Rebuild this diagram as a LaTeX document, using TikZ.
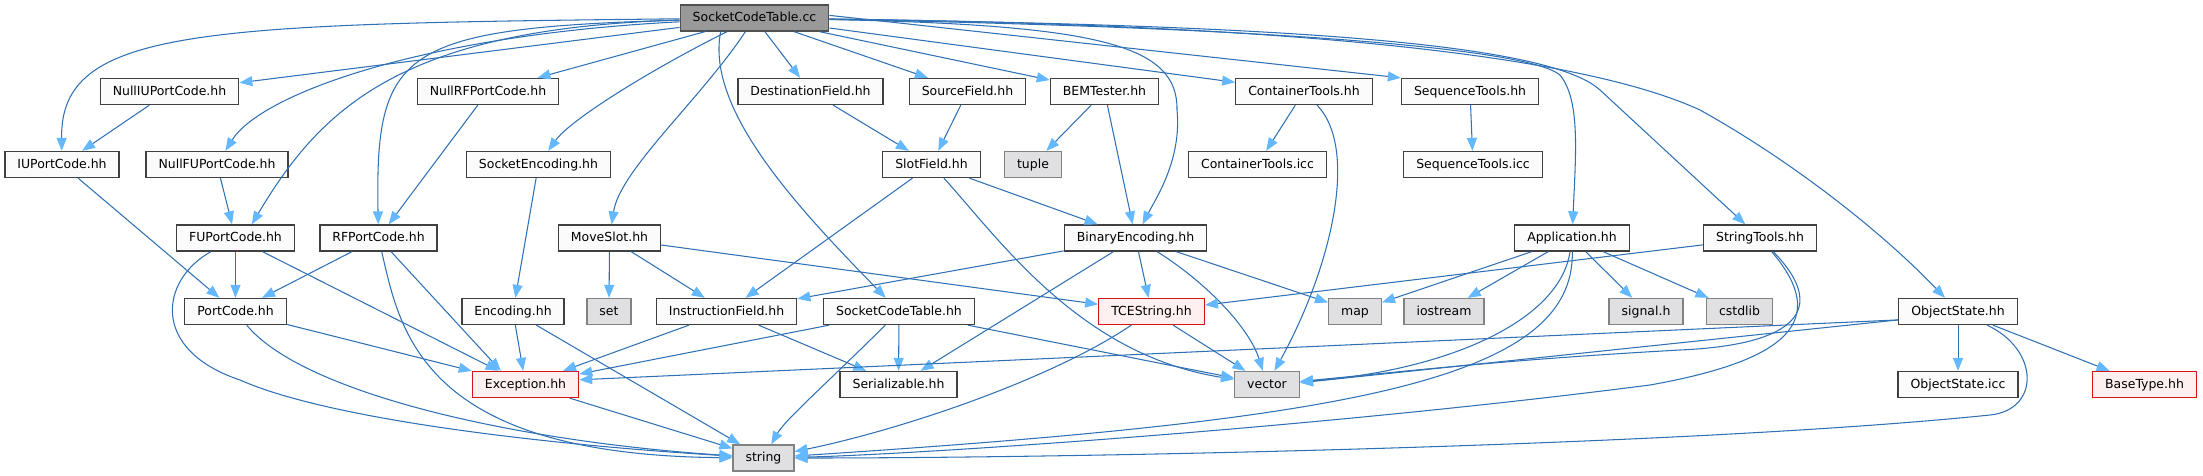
\documentclass[tikz,border=0pt]{standalone}
\usepackage{fontspec}
\setmainfont{DejaVu Sans}
\usetikzlibrary{arrows.meta}

\begin{document}
\begin{tikzpicture}[
  x=0.02cm, y=-0.02cm,
  font=\fontsize{7.1}{8.5}\selectfont,
  file/.style={draw=filebd,fill=filebg,line width=0.75pt,minimum height=0.52cm,
    inner xsep=0.25cm,inner ysep=0pt,text height=5.6pt,text depth=1.6pt},
  root/.style={file,draw=rootbd,fill=rootbg},
  sys/.style={file,draw=sysbd,fill=sysbg},
  trunc/.style={file,draw=truncbd,fill=truncbg},
  inc/.style={draw=edgec,line width=0.6pt,-{Triangle[length=0.26cm,width=0.2cm,color=tipc]}}]

  \definecolor{filebg}{RGB}{250,251,250}
  \definecolor{filebd}{RGB}{64,64,64}
  \definecolor{rootbg}{RGB}{153,153,153}
  \definecolor{rootbd}{RGB}{80,80,80}
  \definecolor{sysbg}{RGB}{224,224,226}
  \definecolor{sysbd}{RGB}{130,130,130}
  \definecolor{truncbg}{RGB}{255,240,240}
  \definecolor{truncbd}{RGB}{215,20,20}
  \definecolor{edgec}{RGB}{48,112,180}
  \definecolor{tipc}{RGB}{99,184,255}

  \useasboundingbox (0,0) rectangle (2203,476);

  % ================= row 0 =================
  \node[root] (sctcc) at (754.5,18) {SocketCodeTable.cc};

  % ================= row 1 =================
  \node[file] (nulliu) at (169.5,91.5) {NullIUPortCode.hh};
  \node[file] (nullrf) at (488,91.5) {NullRFPortCode.hh};
  \node[file] (dstfld) at (810.5,91.5) {DestinationField.hh};
  \node[file] (srcfld) at (967.5,91.5) {SourceField.hh};
  \node[file] (bemt) at (1104.5,91.5) {BEMTester.hh};
  \node[file] (conth) at (1304,91.5) {ContainerTools.hh};
  \node[file] (seqh) at (1470,91.5) {SequenceTools.hh};

  % ================= row 2 =================
  \node[file] (iupc) at (62,164.5) {IUPortCode.hh};
  \node[file] (nullfu) at (217,164.5) {NullFUPortCode.hh};
  \node[file] (sockenc) at (538.5,164.5) {SocketEncoding.hh};
  \node[file] (slotfld) at (931.5,164.5) {SlotField.hh};
  \node[sys] (tuple) at (1033,164.5) {tuple};
  \node[file] (conticc) at (1257.5,164.5) {ContainerTools.icc};
  \node[file] (seqicc) at (1473,164.5) {SequenceTools.icc};

  % ================= row 3 =================
  \node[file] (fupc) at (235.5,238) {FUPortCode.hh};
  \node[file] (rfpc) at (378.5,238) {RFPortCode.hh};
  \node[file] (mvslot) at (609.5,238) {MoveSlot.hh};
  \node[file] (binenc) at (1135.5,238) {BinaryEncoding.hh};
  \node[file] (app) at (1572,238) {Application.hh};
  \node[file] (strtools) at (1760,238) {StringTools.hh};

  % ================= row 4 =================
  \node[file] (portc) at (235.5,311.5) {PortCode.hh};
  \node[file] (enc) at (513,311.5) {Encoding.hh};
  \node[sys] (set) at (609,311.5) {set};
  \node[file] (insfld) at (726.5,311.5) {InstructionField.hh};
  \node[file] (scth) at (899,311.5) {SocketCodeTable.hh};
  \node[trunc] (tces) at (1151.5,311.5) {TCEString.hh};
  \node[sys] (map) at (1355,311.5) {map};
  \node[sys] (iostr) at (1444,311.5) {iostream};
  \node[sys] (signal) at (1646,311.5) {signal.h};
  \node[sys] (cstdlib) at (1739.5,311.5) {cstdlib};
  \node[file] (objst) at (1958,311.5) {ObjectState.hh};

  % ================= row 5 =================
  \node[trunc] (exc) at (525.5,384.5) {Exception.hh};
  \node[file] (serial) at (898.5,384.5) {Serializable.hh};
  \node[sys] (vector) at (1267,384.5) {vector};
  \node[file] (objicc) at (1958,384.5) {ObjectState.icc};
  \node[trunc] (btype) at (2144.5,384.5) {BaseType.hh};

  % ================= row 6 =================
  \node[sys] (string) at (763.5,458) {string};

  % includes of the root file
  \draw[inc] (sctcc) .. controls (200,24) and (60,28) .. (iupc);
  \draw[inc] (sctcc) -- (nulliu);
  \draw[inc] (sctcc) .. controls (420,35) and (260,95) .. (nullfu);
  \draw[inc] (sctcc) .. controls (400,28) and (320,110) .. (fupc.40);
  \draw[inc] (sctcc) .. controls (400,28) and (375,50) .. (rfpc);
  \draw[inc] (sctcc) -- (nullrf);
  \draw[inc] (sctcc) .. controls (650,70) and (570,120) .. (sockenc);
  \draw[inc] (sctcc) .. controls (700,100) and (620,170) .. (mvslot);
  \draw[inc] (sctcc.202) .. controls (705,110) and (800,210) .. (scth);
  \draw[inc] (sctcc) -- (dstfld);
  \draw[inc] (sctcc) -- (srcfld);
  \draw[inc] (sctcc) -- (bemt);
  \draw[inc] (sctcc) .. controls (1100,25) and (1178,45) .. (1177,110)
    .. controls (1182,160) and (1155,200) .. (binenc);
  \draw[inc] (sctcc) -- (conth);
  \draw[inc] (sctcc.2) -- (seqh.north west);
  \draw[inc] (sctcc) .. controls (1300,28) and (1530,50) .. (1560,75)
    .. controls (1580,100) and (1576,150) .. (app);
  \draw[inc] (sctcc) .. controls (1250,25) and (1545,40) .. (1600,90) -- (strtools);
  \draw[inc] (sctcc) .. controls (1300,25) and (1580,55) .. (1700,110)
    .. controls (1790,160) and (1880,230) .. (objst);

  % second level
  \draw[inc] (nulliu) -- (iupc);
  \draw[inc] (nullrf) -- (rfpc);
  \draw[inc] (dstfld) -- (slotfld);
  \draw[inc] (srcfld) -- (slotfld);
  \draw[inc] (bemt) -- (tuple);
  \draw[inc] (bemt) -- (binenc);
  \draw[inc] (conth) -- (conticc);
  \draw[inc] (conth) .. controls (1360,150) and (1330,270) .. (vector);
  \draw[inc] (seqh) -- (seqicc);
  \draw[inc] (iupc) -- (portc);
  \draw[inc] (nullfu) -- (fupc);
  \draw[inc] (sockenc) -- (enc);
  \draw[inc] (slotfld) -- (insfld);
  \draw[inc] (slotfld) .. controls (1000,240) and (1080,355) .. (vector);
  \draw[inc] (slotfld) -- (binenc);

  % port codes
  \draw[inc] (fupc) -- (portc);
  \draw[inc] (fupc) -- (exc);
  \draw[inc] (fupc) .. controls (160,280) and (150,350) .. (240,380)
    .. controls (330,420) and (550,445) .. (string);
  \draw[inc] (rfpc) -- (portc);
  \draw[inc] (rfpc) -- (exc.151);
  \draw[inc] (rfpc) .. controls (400,330) and (420,455) .. (string);
  \draw[inc] (portc) -- (exc);
  \draw[inc] (portc) .. controls (300,390) and (500,440) .. (string);

  % encodings and fields
  \draw[inc] (enc) -- (exc);
  \draw[inc] (enc) -- (string);
  \draw[inc] (mvslot) -- (set);
  \draw[inc] (mvslot) -- (insfld);
  \draw[inc] (mvslot) -- (tces);
  \draw[inc] (insfld) -- (exc);
  \draw[inc] (insfld) -- (serial);
  \draw[inc] (scth) -- (exc);
  \draw[inc] (scth) -- (serial);
  \draw[inc] (scth) .. controls (825,385) and (785,420) .. (string);
  \draw[inc] (scth) -- (vector);
  \draw[inc] (binenc) -- (insfld);
  \draw[inc] (binenc) -- (serial);
  \draw[inc] (binenc) -- (tces);
  \draw[inc] (binenc) .. controls (1210,285) and (1250,330) .. (vector);
  \draw[inc] (binenc) -- (map);
  \draw[inc] (tces) .. controls (1050,380) and (900,430) .. (string);
  \draw[inc] (tces) -- (vector);
  \draw[inc] (exc) -- (string);

  % application
  \draw[inc] (app) -- (map);
  \draw[inc] (app) -- (iostr);
  \draw[inc] (app) -- (signal);
  \draw[inc] (app) -- (cstdlib);
  \draw[inc] (app) .. controls (1560,320) and (1450,370) .. (vector);
  \draw[inc] (app) .. controls (1575,380) and (1350,420) .. (string);

  % string tools
  \draw[inc] (strtools) -- (tces);
  \draw[inc] (strtools) .. controls (1830,310) and (1795,345) .. (1680,350)
    .. controls (1500,360) and (1400,372) .. (vector);
  \draw[inc] (strtools) .. controls (1830,320) and (1790,360) .. (1650,385)
    .. controls (1300,430) and (900,455) .. (string);

  % object state
  \draw[inc] (objst) -- (objicc);
  \draw[inc] (objst) -- (btype);
  \draw[inc] (objst.188) -- (exc.5);
  \draw[inc] (objst.188) -- (vector.3);
  \draw[inc] (objst) .. controls (2040,350) and (2040,410) .. (1990,415)
    .. controls (1700,445) and (1100,458) .. (string);
\end{tikzpicture}
\end{document}
